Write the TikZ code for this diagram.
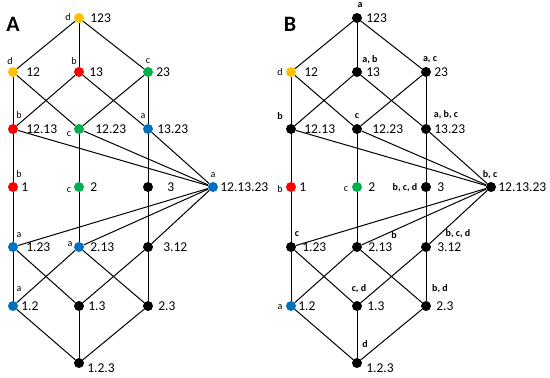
\documentclass[tikz,border=0pt]{standalone}
\usepackage{fontspec}
\setmainfont{Carlito}
\usetikzlibrary{positioning}

\definecolor{cyell}{HTML}{FFC000}
\definecolor{cred}{HTML}{FF0000}
\definecolor{cgreen}{HTML}{00B050}
\definecolor{cblue}{HTML}{0070C0}

\begin{document}
\begin{tikzpicture}[x=1pt, y=-1pt,
  dot/.style={circle, fill=black, inner sep=0pt, minimum size=10pt},
  num/.style={font=\fontsize{13.5}{15}\selectfont, inner sep=0pt, anchor=west},
  ltr/.style={font=\fontsize{10}{11}\selectfont, inner sep=0pt},
  bltr/.style={font=\fontsize{10}{11}\selectfont\bfseries, inner sep=0pt},
  panel/.style={font=\fontsize{22}{24}\selectfont\bfseries, inner sep=0pt},
  link/.style={line width=1pt}
]
\useasboundingbox (0,0) rectangle (550,378);

% Panel A
\node[panel] (atitle) at (13,24) {A};

\node[dot, fill=cyell]  (a123)      at ( 79, 18) {};
\node[dot, fill=cyell]  (a12)       at ( 13, 72) {};
\node[dot, fill=cred]   (a13)       at ( 79, 72) {};
\node[dot, fill=cgreen] (a23)       at (148, 72) {};
\node[dot, fill=cred]   (a12p13)    at ( 13,129) {};
\node[dot, fill=cgreen] (a12p23)    at ( 79,129) {};
\node[dot, fill=cblue]  (a13p23)    at (148,129) {};
\node[dot, fill=cred]   (a1)        at ( 13,187) {};
\node[dot, fill=cgreen] (a2)        at ( 79,187) {};
\node[dot]              (a3)        at (148,187) {};
\node[dot, fill=cblue]  (a12p13p23) at (213,187) {};
\node[dot, fill=cblue]  (a1p23)     at ( 13,247) {};
\node[dot, fill=cblue]  (a2p13)     at ( 79,247) {};
\node[dot]              (a3p12)     at (148,247) {};
\node[dot, fill=cblue]  (a1p2)      at ( 13,306) {};
\node[dot]              (a1p3)      at ( 79,306) {};
\node[dot]              (a2p3)      at (148,306) {};
\node[dot]              (a1p2p3)    at ( 79,363) {};

\node[num, right=6pt of a123]       (a123n)      {123};
\node[num, right=8pt of a12]        (a12n)       {12};
\node[num, right=5pt of a13]        (a13n)       {13};
\node[num, right=3pt of a23]        (a23n)       {23};
\node[num, right=8pt of a12p13]     (a12p13n)    {12.13};
\node[num, right=11pt of a12p23]    (a12p23n)    {12.23};
\node[num, right=4pt of a13p23]     (a13p23n)    {13.23};
\node[num, right=3pt of a1]         (a1n)        {1};
\node[num, right=6pt of a2]         (a2n)        {2};
\node[num, right=14pt of a3]        (a3n)        {3};
\node[num, right=2pt of a12p13p23]  (a12p13p23n) {12.13.23};
\node[num, right=8pt of a1p23]      (a1p23n)     {1.23};
\node[num, right=6pt of a2p13]      (a2p13n)     {2.13};
\node[num, right=10pt of a3p12]     (a3p12n)     {3.12};
\node[num, right=3pt of a1p2]       (a1p2n)      {1.2};
\node[num, right=4pt of a1p3]       (a1p3n)      {1.3};
\node[num, right=5pt of a2p3]       (a2p3n)      {2.3};
\node[num, right=3pt of a1p2p3, yshift=-5pt] (a1p2p3n) {1.2.3};

\node[ltr] (a123l)      at ( 68, 17) {d};
\node[ltr] (a12l)       at ( 10, 61) {d};
\node[ltr] (a13l)       at ( 74, 61) {b};
\node[ltr] (a23l)       at (148, 61) {c};
\node[ltr] (a12p13l)    at ( 19,115) {b};
\node[ltr] (a12p23l)    at ( 69,134) {c};
\node[ltr] (a13p23l)    at (143,116) {a};
\node[ltr] (a1l)        at ( 19,174) {b};
\node[ltr] (a2l)        at ( 69,190) {c};
\node[ltr] (a12p13p23l) at (213,175) {a};
\node[ltr] (a1p23l)     at ( 19,235) {a};
\node[ltr] (a2p13l)     at ( 70,244) {a};
\node[ltr] (a1p2l)      at ( 19,289) {a};

\draw[link] (a123) -- (a12);
\draw[link] (a123) -- (a13);
\draw[link] (a123) -- (a23);
\draw[link] (a12) -- (a12p13);
\draw[link] (a12) -- (a12p23);
\draw[link] (a13) -- (a12p13);
\draw[link] (a13) -- (a13p23);
\draw[link] (a23) -- (a12p23);
\draw[link] (a23) -- (a13p23);
\draw[link] (a12p13) -- (a1);
\draw[link] (a12p23) -- (a2);
\draw[link] (a13p23) -- (a3);
\draw[link] (a12p13) -- (a12p13p23);
\draw[link] (a12p23) -- (a12p13p23);
\draw[link] (a13p23) -- (a12p13p23);
\draw[link] (a1) -- (a1p23);
\draw[link] (a2) -- (a2p13);
\draw[link] (a3) -- (a3p12);
\draw[link] (a1p23) -- (a12p13p23);
\draw[link] (a2p13) -- (a12p13p23);
\draw[link] (a3p12) -- (a12p13p23);
\draw[link] (a1p23) -- (a1p2);
\draw[link] (a1p23) -- (a1p3);
\draw[link] (a2p13) -- (a1p2);
\draw[link] (a2p13) -- (a2p3);
\draw[link] (a3p12) -- (a1p3);
\draw[link] (a3p12) -- (a2p3);
\draw[link] (a1p2) -- (a1p2p3);
\draw[link] (a1p3) -- (a1p2p3);
\draw[link] (a2p3) -- (a1p2p3);

% Panel B
\begin{scope}[xshift=278pt]
\node[panel] (btitle) at (12,24) {B};

\node[dot]              (b123)      at ( 79, 18) {};
\node[dot, fill=cyell]  (b12)       at ( 13, 72) {};
\node[dot]              (b13)       at ( 79, 72) {};
\node[dot]              (b23)       at (148, 72) {};
\node[dot]              (b12p13)    at ( 13,129) {};
\node[dot]              (b12p23)    at ( 79,129) {};
\node[dot]              (b13p23)    at (148,129) {};
\node[dot, fill=cred]   (b1)        at ( 13,187) {};
\node[dot, fill=cgreen] (b2)        at ( 79,187) {};
\node[dot]              (b3)        at (148,187) {};
\node[dot]              (b12p13p23) at (213,187) {};
\node[dot]              (b1p23)     at ( 13,247) {};
\node[dot]              (b2p13)     at ( 79,247) {};
\node[dot]              (b3p12)     at (148,247) {};
\node[dot, fill=cblue]  (b1p2)      at ( 13,306) {};
\node[dot]              (b1p3)      at ( 79,306) {};
\node[dot]              (b2p3)      at (148,306) {};
\node[dot]              (b1p2p3)    at ( 79,363) {};

\node[num, right=4pt of b123]       (b123n)      {123};
\node[num, right=8pt of b12]        (b12n)       {12};
\node[num, right=4pt of b13]        (b13n)       {13};
\node[num, right=3pt of b23]        (b23n)       {23};
\node[num, right=8pt of b12p13]     (b12p13n)    {12.13};
\node[num, right=10pt of b12p23]    (b12p23n)    {12.23};
\node[num, right=3pt of b13p23]     (b13p23n)    {13.23};
\node[num, right=3pt of b1]         (b1n)        {1};
\node[num, right=6pt of b2]         (b2n)        {2};
\node[num, right=6pt of b3]         (b3n)        {3};
\node[num, right=2pt of b12p13p23]  (b12p13p23n) {12.13.23};
\node[num, right=6pt of b1p23]      (b1p23n)     {1.23};
\node[num, right=6pt of b2p13]      (b2p13n)     {2.13};
\node[num, right=6pt of b3p12]      (b3p12n)     {3.12};
\node[num, right=2pt of b1p2]       (b1p2n)      {1.2};
\node[num, right=5pt of b1p3]       (b1p3n)      {1.3};
\node[num, right=5pt of b2p3]       (b2p3n)      {2.3};
\node[num, right=4pt of b1p2p3, yshift=-5pt] (b1p2p3n) {1.2.3};

\node[bltr] (b123l)      at ( 82,  5) {a};
\node[bltr] (b13l)       at ( 92, 60) {a, b};
\node[bltr] (b23l)       at (152, 60) {a, c};
\node[bltr] (b13p23l)    at (168,115) {a, b, c};
\node[ltr]  (b12l)       at (  2, 72) {d};
\node[bltr] (b12p13l)    at (  2,116) {b};
\node[bltr] (b12p23l)    at ( 79,116) {c};
\node[ltr]  (b1l)        at (  2,189) {b};
\node[ltr]  (b2l)        at ( 68,189) {c};
\node[bltr] (b3l)        at (127,188) {b, c, d};
\node[bltr] (b12p13p23l) at (212,175) {b, c};
\node[bltr] (b1p23l)     at ( 19,234) {c};
\node[bltr] (b2p13l)     at (116,235) {b};
\node[bltr] (b3p12l)     at (180,234) {b, c, d};
\node[bltr] (b1p3l)      at ( 81,289) {c, d};
\node[bltr] (b2p3l)      at (162,289) {b, d};
\node[ltr]  (b1p2l)      at (  2,307) {a};
\node[bltr] (b1p2p3l)    at ( 87,344) {d};

\draw[link] (b123) -- (b12);
\draw[link] (b123) -- (b13);
\draw[link] (b123) -- (b23);
\draw[link] (b12) -- (b12p13);
\draw[link] (b12) -- (b12p23);
\draw[link] (b13) -- (b12p13);
\draw[link] (b13) -- (b13p23);
\draw[link] (b23) -- (b12p23);
\draw[link] (b23) -- (b13p23);
\draw[link] (b12p13) -- (b1);
\draw[link] (b12p23) -- (b2);
\draw[link] (b13p23) -- (b3);
\draw[link] (b12p13) -- (b12p13p23);
\draw[link] (b12p23) -- (b12p13p23);
\draw[link] (b13p23) -- (b12p13p23);
\draw[link] (b1) -- (b1p23);
\draw[link] (b2) -- (b2p13);
\draw[link] (b3) -- (b3p12);
\draw[link] (b1p23) -- (b12p13p23);
\draw[link] (b2p13) -- (b12p13p23);
\draw[link] (b3p12) -- (b12p13p23);
\draw[link] (b1p23) -- (b1p2);
\draw[link] (b1p23) -- (b1p3);
\draw[link] (b2p13) -- (b1p2);
\draw[link] (b2p13) -- (b2p3);
\draw[link] (b3p12) -- (b1p3);
\draw[link] (b3p12) -- (b2p3);
\draw[link] (b1p2) -- (b1p2p3);
\draw[link] (b1p3) -- (b1p2p3);
\draw[link] (b2p3) -- (b1p2p3);
\end{scope}
\end{tikzpicture}
\end{document}
